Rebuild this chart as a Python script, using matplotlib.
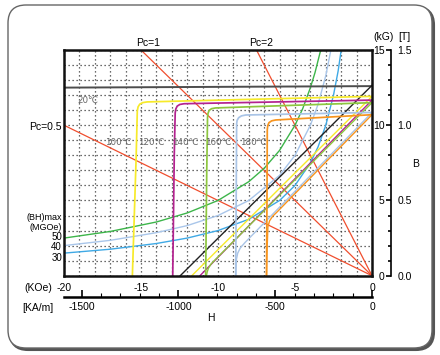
import matplotlib
matplotlib.use('Agg')
import matplotlib.pyplot as plt
from matplotlib.patches import FancyBboxPatch
from matplotlib.ticker import MultipleLocator

plt.rcParams['font.family'] = ['Liberation Sans', 'DejaVu Sans']
plt.rcParams['axes.unicode_minus'] = False

# =====================================================================
# data, H in kOe, B in kG
pc_names = ['Pc=0.5', 'Pc=1', 'Pc=2']
pc_end_h = [-20, -15, -7.5]
pc_end_b = [10, 15, 15]

# (BH)max lines, 50 / 40 / 30 MGOe
bh50_h = [-20, -17, -14, -12, -10, -8, -7, -6, -5, -4.5, -4, -3.7, -3.33]
bh50_b = [2.5, 2.94, 3.57, 4.17, 5.0, 6.25, 7.14, 8.33, 10.0, 11.1, 12.5, 13.5, 15.0]
bh40_h = [-20, -17, -14, -12, -10, -8, -6, -5, -4, -3.5, -3.0, -2.67]
bh40_b = [2.0, 2.35, 2.86, 3.33, 4.0, 5.0, 6.67, 8.0, 10.0, 11.4, 13.3, 15.0]
bh30_h = [-20, -17, -14, -12, -10, -8, -6, -5, -4, -3.5, -3.0, -2.5, -2.2, -2.0]
bh30_b = [1.5, 1.76, 2.14, 2.5, 3.0, 3.75, 5.0, 6.0, 7.5, 8.57, 10.0, 12.0, 13.6, 15.0]

# intrinsic curves
j20_h = [0, -20]
j20_b = [12.6, 12.5]
j100_h = [0, -14.6, -14.9, -15.08, -15.19, -15.24, -15.32, -15.56]
j100_b = [11.92, 11.55, 11.5, 11.4, 11.22, 10.95, 7.7, 0]
j120_h = [0, -12.2, -12.48, -12.65, -12.74, -12.78, -12.84, -12.94]
j120_b = [11.67, 11.43, 11.38, 11.27, 11.08, 10.82, 8.0, 0]
j140_h = [0, -10.15, -10.42, -10.58, -10.65, -10.68, -10.73, -10.8]
j140_b = [11.5, 11.15, 11.1, 10.98, 10.78, 10.52, 7.0, 0]
j160_h = [0, -8.2, -8.48, -8.66, -8.76, -8.79, -8.82, -8.85]
j160_b = [10.85, 10.68, 10.62, 10.5, 10.32, 10.1, 5.0, 0]
j180_h = [0, -6.25, -6.52, -6.69, -6.77, -6.8, -6.82, -6.85]
j180_b = [10.7, 10.35, 10.29, 10.17, 9.98, 9.7, 5.0, 0]

# normal curves
n20_h = [0, -12.45]
n20_b = [12.65, 0]
n100_h = [0, -11.7]
n100_b = [11.92, 0]
n120_h = [0, -11.17]
n120_b = [11.67, 0]
n140_h = [0, -10.15, -10.45, -10.62, -10.7, -10.75]
n140_b = [11.5, 1.1, 0.78, 0.5, 0.25, 0]
n160_h = [0, -8.25, -8.55, -8.72, -8.8, -8.85]
n160_b = [10.85, 2.2, 1.85, 1.5, 1.1, 0]
n180_h = [0, -6.15, -6.45, -6.65, -6.76, -6.82, -6.85]
n180_b = [10.7, 4.25, 3.95, 3.65, 3.25, 1.5, 0]

temp_labels = ['20℃', '100℃', '120℃', '140℃', '160℃', '180℃']
temp_label_h = [-18.44, -16.5, -14.35, -12.14, -10.0, -7.73]
temp_label_b = [11.67, 8.82, 8.82, 8.82, 8.82, 8.82]

koe_ticks = [-20, -15, -10, -5, 0]
kam_ticks = [-1500, -1000, -500, 0]
kg_ticks = [0, 5, 10, 15]
KAM_PER_KOE = 79.577

# =====================================================================
W, H = 440, 355
fig = plt.figure(figsize=(W / 100, H / 100), dpi=100)


def fx(x):
    return x / W


def fy(y):
    return 1 - y / H


# rounded frame round the whole picture
bg = fig.add_axes([0, 0, 1, 1])
bg.set_xlim(0, W)
bg.set_ylim(H, 0)
bg.axis('off')
bg.add_patch(FancyBboxPatch((10, 7), 424, 343, boxstyle='round,pad=0,rounding_size=18',
                            fc='#555555', ec='#555555', lw=1.5))
bg.add_patch(FancyBboxPatch((8, 5), 424, 343, boxstyle='round,pad=0,rounding_size=18',
                            fc='white', ec='#666666', lw=1.0))

ax = fig.add_axes([fx(64), fy(275.7), (372 - 64) / W, (275.7 - 50) / H])
ax.set_zorder(2)
ax.set_xlim(-20, 0)
ax.set_ylim(0, 15)

grid_kw = dict(color='#3a3a3a', lw=0.9, linestyle=(0, (1, 2.2)))
ax.set_xticks(koe_ticks)
ax.xaxis.set_minor_locator(MultipleLocator(1))
ax.yaxis.set_major_locator(MultipleLocator(1))
ax.grid(True, which='both', axis='x', **grid_kw)
ax.grid(True, which='major', axis='y', **grid_kw)
ax.set_xticklabels([str(t) for t in koe_ticks])
ax.tick_params(axis='x', which='both', length=0, pad=5, labelsize=7.5)
ax.tick_params(axis='y', which='both', length=0, labelleft=False)
for s in ax.spines.values():
    s.set_linewidth(1.8)
    s.set_color('#111111')

# Pc load lines
red = '#f04e2e'
for h, b in zip(pc_end_h, pc_end_b):
    ax.plot([0, h], [0, b], color=red, lw=0.9)

# (BH)max lines
ax.plot(bh50_h, bh50_b, color='#3db54a', lw=1.0)
ax.plot(bh40_h, bh40_b, color='#a9c6ea', lw=1.0)
ax.plot(bh30_h, bh30_b, color='#3fa9e5', lw=1.0)

# demagnetisation curves
ax.plot(j20_h, j20_b, color='#4d4d4d', lw=1.4)
ax.plot(n20_h, n20_b, color='#222222', lw=1.0)
curves = [
    (j100_h, j100_b, n100_h, n100_b, '#f7ea2a'),
    (j120_h, j120_b, n120_h, n120_b, '#b3228f'),
    (j140_h, j140_b, n140_h, n140_b, '#8dc63f'),
    (j160_h, j160_b, n160_h, n160_b, '#a9c4e6'),
    (j180_h, j180_b, n180_h, n180_b, '#f7941e'),
]
for jh, jb, nh, nb, c in curves:
    ax.plot(jh, jb, color=c, lw=1.25, solid_joinstyle='round')
    ax.plot(nh, nb, color=c, lw=1.0, solid_joinstyle='round')

for t, h, b in zip(temp_labels, temp_label_h, temp_label_b):
    ax.text(h, b, t, fontsize=6.3, color='#666666', ha='center', va='center',
            family=['DejaVu Sans'])

# second H scale in kA/m
sec = ax.secondary_xaxis(-0.094, functions=(lambda x: x * KAM_PER_KOE,
                                            lambda x: x / KAM_PER_KOE))
sec.set_xticks(kam_ticks)
sec.set_xticklabels([str(t) for t in kam_ticks])
sec.xaxis.set_minor_locator(MultipleLocator(100))
sec.tick_params(which='major', direction='in', length=5, width=1.2, pad=4, labelsize=7.5)
sec.tick_params(which='minor', direction='in', length=3, width=0.8)
sec.spines['bottom'].set_linewidth(1.8)

# B scale at the right, kG on the left of the line, T on the right
rb = ax.secondary_yaxis(1.0607)
rb.set_yticks(kg_ticks)
rb.set_yticklabels([str(t) for t in kg_ticks])
rb.yaxis.set_minor_locator(MultipleLocator(1))
rb.tick_params(which='both', left=True, right=False, labelleft=True, labelright=False,
               direction='out', width=1.2, pad=1, labelsize=7.5)
rb.tick_params(which='major', length=3.5)
rb.tick_params(which='minor', length=2.5)
rb.spines['right'].set_linewidth(1.2)

rt = ax.secondary_yaxis(1.0607, functions=(lambda x: x / 10, lambda x: x * 10))
rt.set_yticks([0.0, 0.5, 1.0, 1.5])
rt.set_yticklabels(['0.0', '0.5', '1.0', '1.5'])
rt.yaxis.set_minor_locator(MultipleLocator(10))
rt.tick_params(which='both', length=0, pad=5, labelsize=7.5)
rt.spines['right'].set_visible(False)

# labels round the plot
fs = 7.5
fig.text(fx(148), fy(43), 'Pc=1', fontsize=fs, ha='center', va='center')
fig.text(fx(261), fy(43), 'Pc=2', fontsize=fs, ha='center', va='center')
fig.text(fx(62), fy(127), 'Pc=0.5', fontsize=fs, ha='right', va='center')
fig.text(fx(384), fy(37), '(kG)', fontsize=fs, ha='center', va='center')
fig.text(fx(404), fy(37), '[T]', fontsize=fs, ha='center', va='center')
fig.text(fx(416), fy(164), 'B', fontsize=fs, ha='center', va='center')
fig.text(fx(62), fy(217), '(BH)max', fontsize=6.5, ha='right', va='center')
fig.text(fx(62), fy(227), '(MGOe)', fontsize=6.5, ha='right', va='center')
fig.text(fx(62), fy(237), '50', fontsize=7, ha='right', va='center')
fig.text(fx(62), fy(247.5), '40', fontsize=7, ha='right', va='center')
fig.text(fx(62), fy(258), '30', fontsize=7, ha='right', va='center')
fig.text(fx(52), fy(288), '(KOe)', fontsize=fs, ha='right', va='center')
fig.text(fx(53), fy(308), '[KA/m]', fontsize=fs, ha='right', va='center')
fig.text(fx(211), fy(318), 'H', fontsize=fs, ha='center', va='center')

fig.savefig('out.png', dpi=100)
